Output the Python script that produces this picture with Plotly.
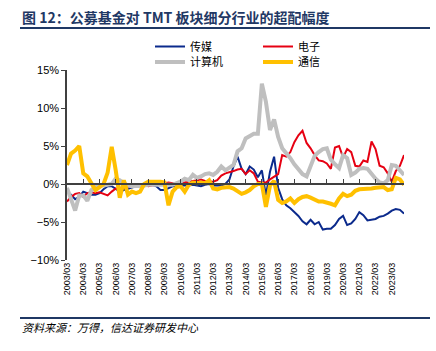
import pandas as pd
import plotly.graph_objects as go

# ---- data (quarterly, 2003Q1 - 2023Q4), overweight in % ----
try:
    dates = pd.date_range("2003-03-31", periods=84, freq="QE")
except Exception:
    dates = pd.date_range("2003-03-31", periods=84, freq="Q")

media = [-1.0, -1.4, -2.0, -1.7, -1.0, -1.2, -1.4, -1.4, -1.2, -0.7,
         -0.3, -0.3, -0.7, -1.0, -0.8, -0.6, -0.4, -0.3, -0.3, -0.2,
         -0.2, -0.1, -0.3, -0.8, -0.8, -0.5, -0.3, -0.3, -0.2, -0.2,
         -0.2, -0.1, -0.2, -0.3, -0.1, 0.0, -0.2, -0.2, -0.2, 0.0,
         0.6, 2.3, 3.6, 2.0, 1.3, 2.3, 1.9, 0.9, 1.8, -1.5,
         1.6, 3.6, -0.5, -2.0, -2.8, -3.2, -3.7, -4.2, -4.9, -5.3,
         -4.7, -5.3, -5.0, -6.0, -5.9, -5.9, -5.4, -4.6, -4.2, -5.4,
         -5.2, -4.6, -3.7, -4.1, -4.8, -4.7, -4.6, -4.3, -4.2, -3.9,
         -3.5, -3.3, -3.4, -3.9]

electronics = [-2.3, -1.7, -1.3, -1.2, -1.7, -1.2, -1.1, -1.2, -1.1, -1.3,
               -1.5, -1.0, -0.6, -0.7, -0.6, -0.4, -0.3, -0.2, -0.2, -0.1,
               -0.3, -0.2, -0.1, 0.0, 0.1, 0.2, 0.1, 0.0, 0.1, 0.2,
               0.3, 0.4, 0.5, 0.6, 0.4, 0.3, 0.3, 0.5, 1.1, 1.4,
               1.6, 1.7, 1.9, 2.0, 1.3, 1.8, 1.4, 0.3, 0.2, 0.2,
               0.6, 0.9, 1.3, 3.8, 3.6, 4.2, 5.5, 6.4, 7.0, 5.4,
               4.7, 3.8, 3.1, 3.0, 2.7, 2.0, 4.8, 5.0, 3.5, 4.6,
               4.2, 2.4, 2.3, 3.1, 2.9, 5.6, 4.6, 2.4, 2.2, 1.4,
               0.3, 1.7, 2.4, 3.8]

computer = [-0.5, -2.1, -3.5, -1.5, -1.5, -2.2, -0.8, -0.4, -0.2, -0.2,
            -0.1, 0.0, 0.7, 0.5, 0.1, -0.2, -0.3, -0.3, -0.2, -0.2,
            -0.1, -0.1, 0.0, 0.0, 0.0, 0.0, -0.1, 0.1, 0.3, 0.7,
            0.5, 1.2, 0.8, 1.0, 1.3, 1.4, 1.2, 1.6, 2.3, 1.8,
            2.2, 2.5, 4.3, 4.7, 6.0, 6.3, 6.6, 6.6, 13.2, 10.8,
            7.1, 8.5, 6.2, 4.7, 4.1, 3.4, 2.6, 2.0, 1.3, 1.0,
            2.3, 3.7, 4.2, 4.6, 4.7, 3.2, 2.6, 2.1, 3.8, 3.4,
            1.2, 1.5, 2.0, 2.1, 2.0, 1.3, 0.7, 0.2, 0.1, 0.5,
            2.5, 2.4, 1.8, 1.2]

telecom = [2.5, 4.0, 4.4, 5.0, 1.4, 1.0, 0.1, -0.8, -0.4, 0.0,
           1.5, 4.9, 1.8, -1.8, 0.5, -1.4, -1.0, -1.2, -1.0, 0.0,
           0.3, 0.3, 0.4, 0.3, 0.2, -2.8, -1.0, -0.4, -0.3, -1.0,
           -0.1, 0.2, 0.1, 0.2, 0.1, 0.5, -0.6, -0.7, -0.5, -0.4,
           -0.4, -0.6, -0.9, -1.3, -1.1, -0.8, -0.3, 0.0, 0.0, -3.0,
           -0.2, 0.4, -2.1, -2.5, -2.3, -1.9, -2.5, -2.0, -1.7, -1.6,
           -1.8, -2.0, -2.3, -2.3, -2.4, -2.6, -2.8, -1.9, -1.3, -1.6,
           -1.4, -0.9, -0.7, -0.7, -0.7, -0.6, -0.5, -0.4, -0.4, -0.8,
           -0.7, 0.8, 0.6, -0.1]

series_names = ["传媒", "电子", "计算机", "通信"]
series_values = [media, electronics, computer, telecom]
series_colors = ["#0b2a8c", "#e60012", "#bfbfbf", "#ffc000"]
series_widths = [2, 2, 4, 4]
legend_ids = ["legend", "legend2", "legend3", "legend4"]

title_text = "图 12：公募基金对 TMT 板块细分行业的超配幅度"
source_text = "资料来源：万得，信达证券研发中心"

CJK = "Noto Sans CJK SC"
NAVY = "#1f3864"

fig = go.Figure()
for name, vals, col, w, lg in zip(series_names, series_values, series_colors,
                                  series_widths, legend_ids):
    fig.add_trace(go.Scatter(x=dates, y=[v / 100 for v in vals], name=name,
                             mode="lines", line=dict(color=col, width=w),
                             legend=lg))

# helper trace for the zero-line axis with tick marks
fig.add_trace(go.Scatter(x=[dates[0], dates[-1]], y=[None, None], xaxis="x2",
                         showlegend=False, hoverinfo="skip"))

W, H = 436, 351
L, R, T, B = 67, 32, 70, 91
pw, ph = W - L - R, H - T - B

def px(x):
    return (x - L) / pw

def py(y):
    return (H - B - y) / ph

xr = [dates[0], dates[-1]]
fig.update_layout(
    width=W, height=H,
    margin=dict(l=L, r=R, t=T, b=B),
    paper_bgcolor="white", plot_bgcolor="white",
    font=dict(family="Liberation Sans, Arial", color="#000000"),
    xaxis=dict(type="date", range=xr, tickformat="%Y/%m", tick0="2003-03-31",
               dtick="M12", tickangle=-90, showline=False, showgrid=False,
               zeroline=False, ticks="", tickfont=dict(size=9, color="#000000")),
    xaxis2=dict(type="date", range=xr, overlaying="x", anchor="free",
                position=0.4, side="bottom", tick0="2003-03-31", dtick="M12",
                showline=True, linecolor="#404040", linewidth=1.5,
                ticks="inside", ticklen=4, tickwidth=1, tickcolor="#404040",
                showticklabels=False, showgrid=False, zeroline=False),
    yaxis=dict(range=[-0.10, 0.15], dtick=0.05, tickformat=".0%",
               showgrid=False, zeroline=False, showline=True,
               linecolor="#404040", linewidth=1.5, ticks="outside", ticklen=4,
               tickcolor="#404040", tickfont=dict(size=11, color="#000000")),
    showlegend=True,
)

leg_common = dict(orientation="v", yanchor="middle", xanchor="left",
                  bgcolor="rgba(0,0,0,0)", borderwidth=0,
                  font=dict(family=CJK, size=11, color="#000000"))
fig.update_layout(
    legend=dict(x=px(150), y=py(46.5), **leg_common),
    legend2=dict(x=px(258), y=py(46.5), **leg_common),
    legend3=dict(x=px(150), y=py(62), **leg_common),
    legend4=dict(x=px(258), y=py(62), **leg_common),
)

fig.add_annotation(text=title_text, xref="paper", yref="paper",
                   x=px(20), y=py(17), xanchor="left", yanchor="middle",
                   showarrow=False,
                   font=dict(family=CJK, size=14, color=NAVY, weight="bold"))
fig.add_annotation(text=source_text, xref="paper", yref="paper",
                   x=px(20), y=py(327), xanchor="left", yanchor="middle",
                   showarrow=False,
                   font=dict(family=CJK, size=11, color="#000000", style="italic"))
for yy in (28, 318):
    fig.add_shape(type="line", xref="paper", yref="paper",
                  x0=px(20), x1=px(430), y0=py(yy), y1=py(yy),
                  line=dict(color=NAVY, width=2))

fig.write_html("out.html")
